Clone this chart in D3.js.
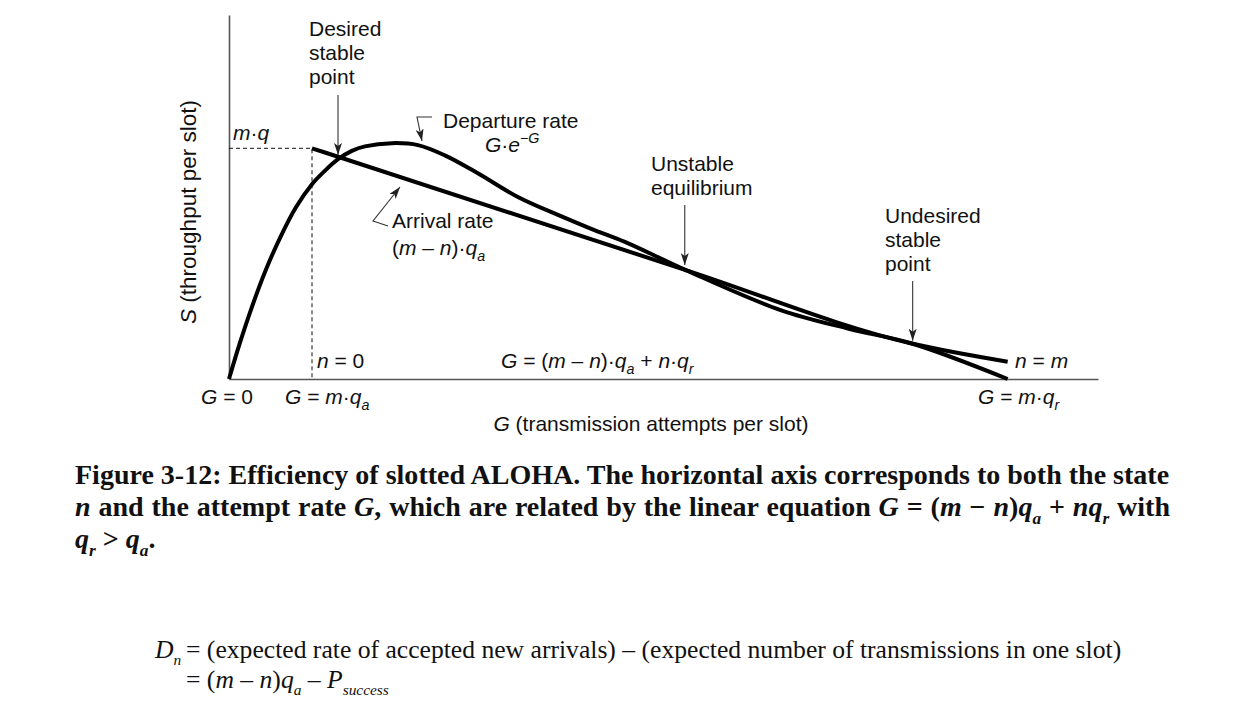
<!DOCTYPE html>
<html>
<head>
<meta charset="utf-8">
<script src="https://cdn.jsdelivr.net/npm/d3@7"></script>
<style>
  html, body { margin: 0; padding: 0; background: #fff; }
  svg { display: block; }
</style>
</head>
<body>
<svg id="chart" width="1246" height="716"></svg>
<script>
// ---- data ----
// Departure rate curve G·e^-G (hand drawn), G = attempts per slot, S = throughput
const departureG = [0, 0.071, 0.148, 0.231, 0.327, 0.430, 0.533, 0.616, 0.700, 0.789, 0.873, 1.046, 1.213, 1.386, 1.598, 1.855, 2.112, 2.330, 2.542, 2.933, 3.537, 3.986, 4.390, 5.000];
const departureS = [0, 0.057, 0.113, 0.167, 0.220, 0.268, 0.304, 0.325, 0.343, 0.356, 0.363, 0.368, 0.365, 0.349, 0.321, 0.284, 0.256, 0.234, 0.214, 0.170, 0.108, 0.078, 0.055, 0.000];
// Arrival rate line (m − n)·q_a, from n = 0 to n = m
const arrivalG = [0.533, 2.933, 4.390, 5.000];
const arrivalS = [0.360, 0.170, 0.055, 0.027];
// Equilibrium points (desired stable, unstable, undesired stable)
const equilibriumG = [0.700, 2.933, 4.390];
const equilibriumS = [0.345, 0.170, 0.055];
const xDomain = [0, 5.58];
const yDomain = [0, 0.568];

// ---- layout ----
const svg = d3.select('#chart');
const x = d3.scaleLinear().domain(xDomain).range([229, 1098]);
const y = d3.scaleLinear().domain(yDomain).range([379, 15]);
const SANS = '"Liberation Sans", Arial, Helvetica, sans-serif';
const SERIF = '"Liberation Serif", "Times New Roman", Times, serif';
const FS = 21;

const defs = svg.append('defs');
defs.append('marker').attr('id', 'arr')
  .attr('viewBox', '0 0 12 8').attr('refX', 12).attr('refY', 4)
  .attr('markerWidth', 12).attr('markerHeight', 8)
  .attr('markerUnits', 'userSpaceOnUse').attr('orient', 'auto')
  .append('path').attr('d', 'M0,0 L12,4 L0,8 L3,4 Z').attr('fill', '#222');

function rich(sel, parts, fs, ss = 0.68) {
  let shift = 0;
  parts.forEach(p => {
    const ts = sel.append('tspan').text(p.t);
    if (p.i) ts.attr('font-style', 'italic');
    const target = p.sub ? fs * 0.28 : p.sup ? -fs * 0.42 : 0;
    if (target !== shift) { ts.attr('dy', target - shift); shift = target; }
    if (p.sub || p.sup) ts.attr('font-size', fs * ss).attr('class', 'small');
  });
  return sel;
}
function label(px, py, parts, opts = {}) {
  const fs = opts.fs || FS;
  const t = svg.append('text').attr('x', px).attr('y', py)
    .attr('font-family', opts.family || SANS)
    .attr('font-size', fs)
    .attr('fill', '#111');
  if (opts.anchor) t.attr('text-anchor', opts.anchor);
  if (opts.weight) t.attr('font-weight', opts.weight);
  return rich(t, parts, fs, opts.ss || 0.68);
}
function setSize(t, fs, ss = 0.68) {
  t.attr('font-size', fs);
  t.selectAll('tspan.small').attr('font-size', fs * ss);
}

// ---- axes (plain lines, no ticks) ----
const axX = d3.axisBottom(x).tickValues([]).tickSizeOuter(0);
const axY = d3.axisLeft(y).tickValues([]).tickSizeOuter(0);
svg.append('g').attr('transform', `translate(0,${y(0)})`).call(axX)
  .select('.domain').attr('stroke', '#555').attr('stroke-width', 1.6);
svg.append('g').attr('transform', `translate(${x(0)},0)`).call(axY)
  .select('.domain').attr('stroke', '#555').attr('stroke-width', 1.6);

// ---- dashed guides to m·q ----
const gx = x(arrivalG[0]), gy = y(arrivalS[0]);
svg.append('path').attr('d', `M${x(0)},${gy} H${gx} V${y(0)}`)
  .attr('fill', 'none').attr('stroke', '#111').attr('stroke-width', 1)
  .attr('stroke-dasharray', '4,3');

// ---- curves ----
const depData = departureG.map((g, i) => [g, departureS[i]]);
const arrData = arrivalG.map((g, i) => [g, arrivalS[i]]);
svg.append('path').datum(depData)
  .attr('d', d3.line().x(d => x(d[0])).y(d => y(d[1])).curve(d3.curveCatmullRom.alpha(0.5)))
  .attr('fill', 'none').attr('stroke', '#000').attr('stroke-width', 4).attr('stroke-linejoin', 'round');
svg.append('path').datum(arrData)
  .attr('d', d3.line().x(d => x(d[0])).y(d => y(d[1])).curve(d3.curveMonotoneX))
  .attr('fill', 'none').attr('stroke', '#000').attr('stroke-width', 4).attr('stroke-linejoin', 'round');

// ---- annotation arrows ----
function arrow(points) {
  svg.append('path').attr('d', d3.line()(points))
    .attr('fill', 'none').attr('stroke', '#333').attr('stroke-width', 1.1)
    .attr('marker-end', 'url(#arr)');
}
const eq = equilibriumG.map((g, i) => [x(g), y(equilibriumS[i])]);
arrow([[eq[0][0], 95], [eq[0][0], eq[0][1] - 3]]);
arrow([[eq[1][0] - 1, 205], [eq[1][0] - 1, eq[1][1] - 5]]);
arrow([[eq[2][0], 281], [eq[2][0], eq[2][1] - 3]]);
arrow([[432, 117], [417, 117], [422, 141]]);
arrow([[388, 226], [373, 221], [400, 187]]);

// ---- chart labels ----
label(309, 36, [{t: 'Desired'}]);
label(309, 60, [{t: 'stable'}]);
label(309, 84, [{t: 'point'}]);
label(443, 128, [{t: 'Departure rate'}]);
label(485, 152, [{t: 'G', i: 1}, {t: '·'}, {t: 'e', i: 1}, {t: '−G', i: 1, sup: 1}]);
label(233, 140, [{t: 'm', i: 1}, {t: '·'}, {t: 'q', i: 1}]);
label(392, 228, [{t: 'Arrival rate'}]);
label(392, 255, [{t: '('}, {t: 'm', i: 1}, {t: ' – '}, {t: 'n', i: 1}, {t: ')·'}, {t: 'q', i: 1}, {t: 'a', i: 1, sub: 1}]);
label(651, 171, [{t: 'Unstable'}]);
label(651, 195, [{t: 'equilibrium'}]);
label(885, 223, [{t: 'Undesired'}]);
label(885, 247, [{t: 'stable'}]);
label(885, 271, [{t: 'point'}]);
label(317, 368, [{t: 'n', i: 1}, {t: ' = 0'}]);
label(501, 368, [{t: 'G', i: 1}, {t: ' = ('}, {t: 'm', i: 1}, {t: ' – '}, {t: 'n', i: 1}, {t: ')·'}, {t: 'q', i: 1}, {t: 'a', i: 1, sub: 1}, {t: ' + '}, {t: 'n', i: 1}, {t: '·'}, {t: 'q', i: 1}, {t: 'r', i: 1, sub: 1}]);
label(1015, 368, [{t: 'n', i: 1}, {t: ' = '}, {t: 'm', i: 1}]);
label(201, 404, [{t: 'G', i: 1}, {t: ' = 0'}]);
label(285, 404, [{t: 'G', i: 1}, {t: ' = '}, {t: 'm', i: 1}, {t: '·'}, {t: 'q', i: 1}, {t: 'a', i: 1, sub: 1}]);
label(978, 404, [{t: 'G', i: 1}, {t: ' = '}, {t: 'm', i: 1}, {t: '·'}, {t: 'q', i: 1}, {t: 'r', i: 1, sub: 1}]);
label(651, 431, [{t: 'G', i: 1}, {t: ' (transmission attempts per slot)'}], {anchor: 'middle'});
// y-axis title
const yt = svg.append('text').attr('transform', 'translate(196,212) rotate(-90)')
  .attr('text-anchor', 'middle').attr('font-family', SANS).attr('font-size', 22.5).attr('fill', '#111');
rich(yt, [{t: 'S', i: 1}, {t: ' (throughput per slot)'}], 22.5);

// ---- caption (bold serif, fitted / justified to the text block) ----
const CAP_L = 75, CAP_W = 1095, CAP_SS = 0.62;
const c1 = label(CAP_L, 484, [{t: 'Figure 3-12: Efficiency of slotted ALOHA. The horizontal axis corresponds to both the state'}], {family: SERIF, fs: 26, weight: 'bold'});
const capFs = 26 * CAP_W / c1.node().getComputedTextLength();
setSize(c1, capFs);
const c2 = label(CAP_L, 516, [{t: 'n', i: 1}, {t: ' and the attempt rate '}, {t: 'G', i: 1}, {t: ', which are related by the linear equation '}, {t: 'G', i: 1}, {t: ' = ('}, {t: 'm', i: 1}, {t: ' − '}, {t: 'n', i: 1}, {t: ')'}, {t: 'q', i: 1}, {t: 'a', i: 1, sub: 1}, {t: ' + '}, {t: 'nq', i: 1}, {t: 'r', i: 1, sub: 1}, {t: ' with'}], {family: SERIF, fs: capFs, weight: 'bold', ss: CAP_SS});
{
  const w = c2.node().getComputedTextLength();
  const spaces = (c2.text().match(/ /g) || []).length;
  c2.attr('word-spacing', (CAP_W - w) / spaces);
}
label(CAP_L, 548, [{t: 'q', i: 1}, {t: 'r', i: 1, sub: 1}, {t: ' > '}, {t: 'q', i: 1}, {t: 'a', i: 1, sub: 1}, {t: '.'}], {family: SERIF, fs: capFs, weight: 'bold', ss: CAP_SS});

// ---- equation below ----
const EQ_SS = 0.6;
const e1 = label(186, 658, [{t: '= (expected rate of accepted new arrivals) – (expected number of transmissions in one slot)'}], {family: SERIF, fs: 22});
const eqFs = 22 * (1122 - 186) / e1.node().getComputedTextLength();
setSize(e1, eqFs);
label(155, 658, [{t: 'D', i: 1}, {t: 'n', i: 1, sub: 1}], {family: SERIF, fs: eqFs, ss: EQ_SS});
label(186, 688, [{t: '= ('}, {t: 'm', i: 1}, {t: ' – '}, {t: 'n', i: 1}, {t: ')'}, {t: 'q', i: 1}, {t: 'a', i: 1, sub: 1}, {t: ' – '}, {t: 'P', i: 1}, {t: 'success', i: 1, sub: 1}], {family: SERIF, fs: eqFs, ss: EQ_SS});
</script>
</body>
</html>
